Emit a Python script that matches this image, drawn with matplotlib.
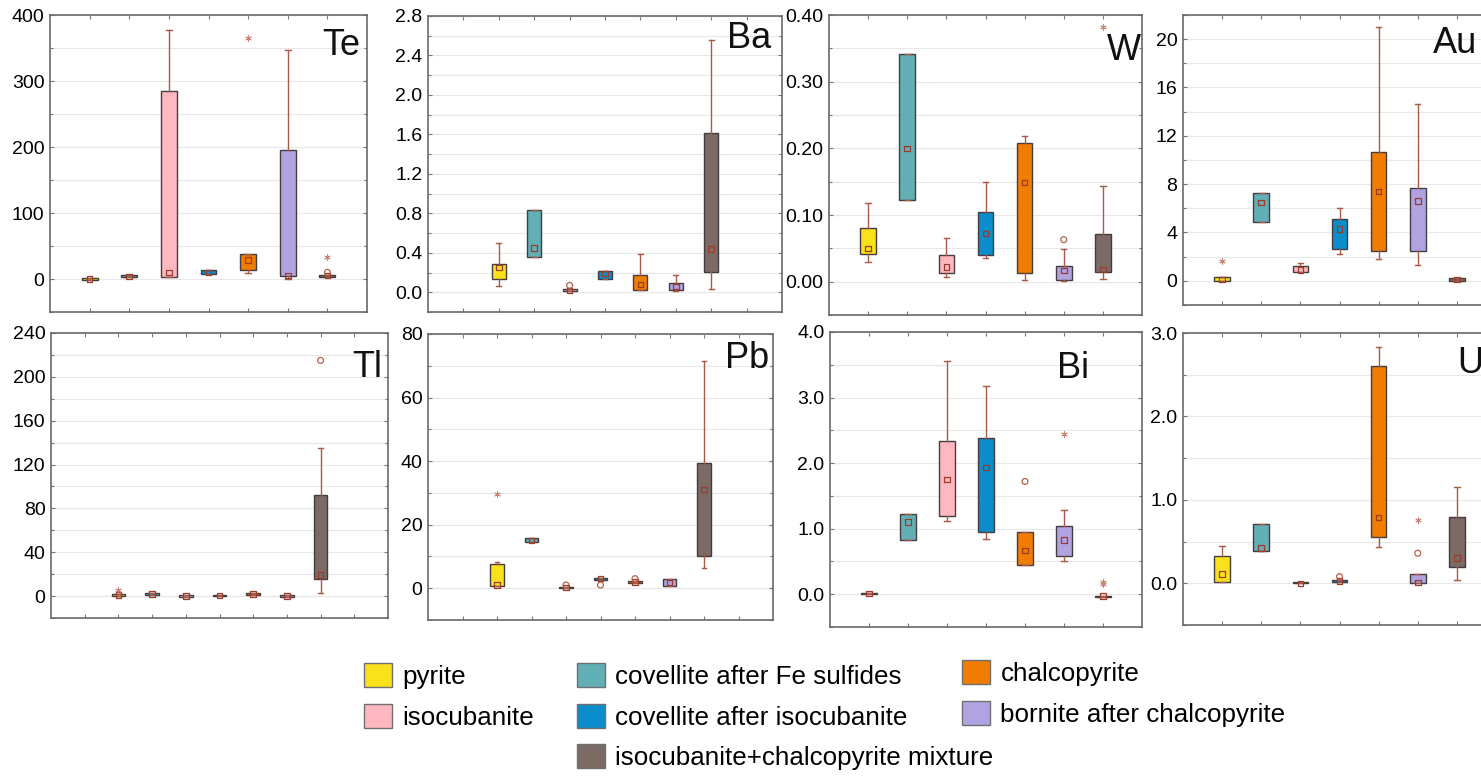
import matplotlib
matplotlib.use('Agg')
import matplotlib.pyplot as plt
from matplotlib.patches import Patch
from matplotlib.ticker import MultipleLocator, FormatStrFormatter

plt.rcParams['font.family'] = ['Liberation Sans', 'DejaVu Sans']

minerals = ['pyrite', 'covellite after Fe sulfides', 'isocubanite',
            'covellite after isocubanite', 'chalcopyrite',
            'bornite after chalcopyrite', 'isocubanite+chalcopyrite mixture']
colors = ['#f9e11b', '#62b0b6', '#ffb8bf', '#0a8dca', '#f07d00', '#b1a3e2', '#7c6b64']

# each box: (whisker low, q1, median, q3, whisker high), one per mineral
# *_out = outliers (circles), *_ext = extremes (asterisks), as (mineral index, value)
te_box = [(-1, -1, 0, 1, 1), (3, 3, 4, 6, 6), (3, 3, 10, 285, 378), (8, 8, 10, 14, 14),
          (9, 13, 29, 38, 38), (0, 5, 5, 196, 347), (3, 3, 5, 6, 6)]
te_out = [(6, 10)]
te_ext = [(4, 365), (6, 33)]

ba_box = [(0.06, 0.13, 0.25, 0.29, 0.50), (0.36, 0.36, 0.45, 0.83, 0.83),
          (0.01, 0.01, 0.02, 0.03, 0.03), (0.13, 0.13, 0.19, 0.22, 0.22),
          (0.02, 0.02, 0.08, 0.17, 0.39), (0.01, 0.02, 0.06, 0.09, 0.17),
          (0.03, 0.21, 0.44, 1.61, 2.56)]
ba_out = [(2, 0.07)]
ba_ext = []

w_box = [(0.030, 0.042, 0.050, 0.081, 0.118), (0.123, 0.123, 0.200, 0.342, 0.342),
         (0.007, 0.013, 0.022, 0.040, 0.066), (0.035, 0.040, 0.072, 0.105, 0.149),
         (0.003, 0.013, 0.149, 0.208, 0.218), (0.001, 0.002, 0.017, 0.024, 0.049),
         (0.004, 0.014, 0.018, 0.072, 0.144)]
w_out = [(5, 0.063)]
w_ext = [(6, 0.382)]

au_box = [(0.0, 0.0, 0.1, 0.3, 0.3), (4.9, 4.9, 6.5, 7.3, 7.3), (0.7, 0.7, 0.9, 1.2, 1.5),
          (2.2, 2.6, 4.3, 5.1, 6.0), (1.8, 2.5, 7.4, 10.7, 21.0), (1.3, 2.5, 6.6, 7.7, 14.6),
          (0.0, 0.0, 0.1, 0.2, 0.2)]
au_out = []
au_ext = [(0, 1.6)]

tl_box = [(0, 0, 1, 2, 2), (1, 1, 2, 3, 3), (-1, -1, 0, 1, 1), (0, 0, 0.5, 1, 1),
          (1, 1, 2, 3, 3), (-1, -1, 0, 1, 1), (3, 16, 19, 92, 135)]
tl_out = [(6, 215)]
tl_ext = [(0, 6)]

pb_box = [(0.8, 0.8, 1.0, 7.5, 8.3), (14.5, 14.5, 15.0, 15.8, 15.8), (0, 0, 0.2, 0.5, 0.5),
          (2.6, 2.6, 3.0, 3.3, 3.3), (1.8, 1.8, 2.0, 2.3, 2.3), (0.6, 0.6, 1.8, 3.0, 3.0),
          (6.5, 10, 31, 39.5, 71.5)]
pb_out = [(2, 1.0), (3, 1.0), (4, 3.0)]
pb_ext = [(0, 29.5)]

bi_box = [(0, 0, 0.01, 0.02, 0.02), (0.82, 0.82, 1.10, 1.22, 1.22),
          (1.12, 1.20, 1.75, 2.33, 3.55), (0.85, 0.95, 1.93, 2.38, 3.17),
          (0.45, 0.45, 0.67, 0.95, 0.95), (0.50, 0.59, 0.83, 1.04, 1.29),
          (-0.04, -0.04, -0.03, -0.02, -0.02)]
bi_out = [(4, 1.72)]
bi_ext = [(5, 2.45), (6, 0.15), (6, 0.19)]

u_box = [(0.01, 0.01, 0.11, 0.33, 0.45), (0.39, 0.39, 0.42, 0.71, 0.71), (0, 0, 0, 0.01, 0.01),
         (0.02, 0.02, 0.03, 0.04, 0.04), (0.44, 0.56, 0.79, 2.61, 2.83), (0, 0, 0.01, 0.11, 0.11),
         (0.04, 0.2, 0.3, 0.8, 1.16)]
u_out = [(3, 0.08), (5, 0.36)]
u_ext = [(5, 0.76)]

W, H = 1481, 776
fig = plt.figure(figsize=(W / 100, H / 100), dpi=100)


def rect(x0, y0, x1, y1):
    return [x0 / W, 1 - y1 / H, (x1 - x0) / W, (y1 - y0) / H]


# element, data, first slot, number of slots, ylim, major, minor, fmt, frame px, label pos
panels = [
    ('Te', te_box, te_out, te_ext, 1, 7, (-50, 400), 100, 50, '%d', (50, 15, 367, 312), 0.858, 0.865),
    ('Ba', ba_box, ba_out, ba_ext, 2, 9, (-0.2, 2.8), 0.4, 0.2, '%.1f', (428, 16, 782, 312), 0.845, 0.892),
    ('W', w_box, w_out, w_ext, 1, 7, (-0.05, 0.40), 0.1, 0.05, '%.2f', (829, 15, 1142, 315), 0.888, 0.85),
    ('Au', au_box, au_out, au_ext, 1, 7, (-2, 22), 4, 2, '%d', (1183, 15, 1496, 305), 0.80, 0.869),
    ('Tl', tl_box, tl_out, tl_ext, 2, 9, (-20, 240), 40, 20, '%d', (51, 333, 388, 618), 0.893, 0.846),
    ('Pb', pb_box, pb_out, pb_ext, 2, 9, (-10, 80), 20, 10, '%d', (428, 334, 773, 620), 0.861, 0.88),
    ('Bi', bi_box, bi_out, bi_ext, 1, 7, (-0.5, 4.0), 1.0, 0.5, '%.1f', (830, 332, 1142, 627), 0.728, 0.844),
    ('U', u_box, u_out, u_ext, 1, 7, (-0.5, 3.0), 1.0, 0.5, '%.1f', (1183, 333, 1496, 625), 0.875, 0.863),
]

frame_c = '#6a6a6a'
whisk_c = '#a85a4a'

for name, boxes, outs, exts, first, nslots, ylim, major, minor, fmt, frame, lx, ly in panels:
    ax = fig.add_axes(rect(*frame))
    pos = [first + i for i in range(len(boxes))]
    stats = [dict(whislo=b[0], q1=b[1], med=b[2], q3=b[3], whishi=b[4], fliers=[]) for b in boxes]
    art = ax.bxp(stats, positions=pos, widths=0.4, patch_artist=True, showfliers=False,
                 capwidths=0.14, manage_ticks=False,
                 boxprops=dict(edgecolor='#453d3d', linewidth=1.0),
                 whiskerprops=dict(color=whisk_c, linewidth=1.0),
                 capprops=dict(color=whisk_c, linewidth=1.0),
                 medianprops=dict(linestyle='none'))
    for patch, c in zip(art['boxes'], colors):
        patch.set_facecolor(c)
        patch.set_zorder(2)
    ax.scatter(pos, [b[2] for b in boxes], marker='s', s=16, facecolor='none',
               edgecolor='#9a3b2c', linewidths=0.9, zorder=4)
    if outs:
        ax.scatter([pos[i] for i, v in outs], [v for i, v in outs], marker='o', s=18,
                   facecolor='none', edgecolor='#b5604a', linewidths=0.9, zorder=4)
    if exts:
        ax.scatter([pos[i] for i, v in exts], [v for i, v in exts], marker=(6, 2, 0), s=16,
                   color='#c58575', linewidths=0.7, zorder=4)

    ax.set_xlim(0, nslots + 1)
    ax.set_xticks(range(1, nslots + 1))
    ax.set_xticklabels([])
    ax.set_ylim(*ylim)
    ax.yaxis.set_major_locator(MultipleLocator(major))
    ax.yaxis.set_minor_locator(MultipleLocator(minor))
    ax.yaxis.set_major_formatter(FormatStrFormatter(fmt))
    ax.grid(axis='y', which='both', color='#e8e8e8', linewidth=0.9, zorder=0)
    ax.set_axisbelow(True)
    ax.tick_params(axis='both', which='both', direction='in', top=True, right=True,
                   length=3, width=0.8, color='#777777', labelsize=14, pad=4)
    ax.tick_params(axis='y', which='minor', length=2.5)
    for s in ax.spines.values():
        s.set_color(frame_c)
        s.set_linewidth(1.2)
    ax.text(lx, ly, name, transform=ax.transAxes, ha='left', va='baseline',
            fontsize=26, color='#111111')

# legend in three columns below the panels
handles = [Patch(facecolor=c, edgecolor='#707070', linewidth=1.0) for c in colors]
columns = [([0, 2], 364, 663), ([1, 3, 6], 577, 663), ([4, 5], 962, 660)]
for idx, x0, y0 in columns:
    fig.legend([handles[i] for i in idx], [minerals[i] for i in idx],
               loc='upper left', bbox_to_anchor=(x0 / W, 1 - y0 / H),
               frameon=False, fontsize=18.7, handlelength=1.06, handleheight=1.06,
               handletextpad=0.42, labelspacing=0.56, borderpad=0, borderaxespad=0)

fig.savefig('out.png', dpi=100)
